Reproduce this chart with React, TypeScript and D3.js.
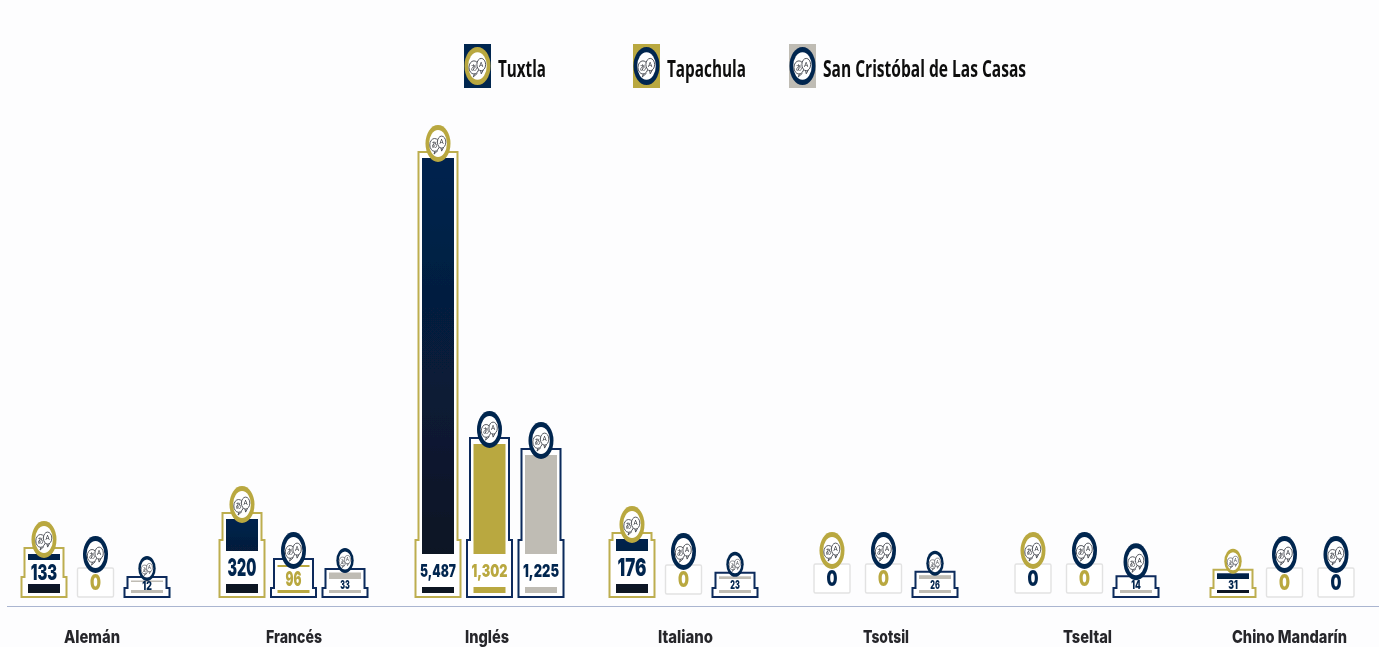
import * as d3 from 'd3'

const categories = ['Alemán', 'Francés', 'Inglés', 'Italiano', 'Tsotsil', 'Tseltal', 'Chino Mandarín']
const seriesNames = ['Tuxtla', 'Tapachula', 'San Cristóbal de Las Casas']
const tuxtla = [133, 320, 5487, 176, 0, 0, 31]
const tapachula = [0, 96, 1302, 0, 0, 0, 0]
const sanCristobal = [12, 33, 1225, 23, 26, 14, 0]
const seriesValues = [tuxtla, tapachula, sanCristobal]

// the original's bar heights are not linear in the value, so the scale has several knots
const yKnots = [12, 33, 96, 133, 176, 320, 1225, 1302, 5487]
const yRange = [577, 569, 559, 548, 533, 513, 449, 438, 152]

// layout, the groups in the original are not evenly spaced
const groupCenters = [96, 294, 490, 684, 884, 1085, 1285]
const labelCenters = [92, 294, 487, 685.5, 886, 1087.5, 1289.5]
const labelWidths = [56, 56, 44, 55, 46, 49, 115]
const zeroLift = [0, 0, 0, 3, 4, 4, 0]
const legendX = [464, 633, 789]
const legendTextWidths = [48, 79, 203]
const smallIconValues = [12, 23, 26, 31, 33]

const NAVY = '#05264f'
const GOLD = '#b9a83f'
const GREY = '#bfbcb4'
const BASE_Y = 597

const y = d3.scaleLinear().domain(yKnots).range(yRange)
const groupX = d3.scaleOrdinal<string, number>().domain(categories).range(groupCenters)
const labelX = d3.scaleOrdinal<string, number>().domain(categories).range(labelCenters)
const seriesOffset = d3.scalePoint<string>().domain(seriesNames).range([-52, 51])
const stepHeight = d3.scaleThreshold<number, number>().domain([40, 60]).range([9, 20, 57])
const labelFont = d3.scaleThreshold<number, number>().domain([40, 100, 150, 1000]).range([12, 20, 22, 24, 18])
const boxTop = d3.scaleThreshold<number, number>().domain([13, 40, 100, 150, 1000]).range([582, 579, 567, 560, 551, 554])
const boxBottom = d3.scaleThreshold<number, number>().domain([100, 1000]).range([590, 584, 587])
const formatValue = d3.format(',')

const barFill = ['url(#navyGrad)', GOLD, GREY]
const borderColor = ['#bdae4f', '#0b2a5b', '#0b2a5b']
const ringColor = [GOLD, NAVY, NAVY]
const labelColor = [NAVY, GOLD, NAVY]

function pedestalPath(cx: number, top: number, step: number) {
  const p = d3.path()
  p.moveTo(cx - 19.5, top)
  p.lineTo(cx + 19.5, top)
  p.lineTo(cx + 19.5, BASE_Y - step)
  p.lineTo(cx + 22.5, BASE_Y - step)
  p.lineTo(cx + 22.5, BASE_Y)
  p.lineTo(cx - 22.5, BASE_Y)
  p.lineTo(cx - 22.5, BASE_Y - step)
  p.lineTo(cx - 19.5, BASE_Y - step)
  p.closePath()
  return p.toString()
}

function Icon({ cx, cy, rx, ry, ring }: { cx: number; cy: number; rx: number; ry: number; ring: string }) {
  const sx = rx / 12.5
  const sy = ry / 18.5
  return (
    <g transform={`translate(${cx},${cy}) scale(${sx},${sy})`}>
      <ellipse rx={12.5} ry={18.5} fill={ring} />
      <ellipse rx={8.9} ry={13.4} fill="#fff" />
      <ellipse cx={-3.4} cy={1.4} rx={4.8} ry={6.4} fill="#fff" stroke="#44474f" strokeWidth={0.9} />
      <ellipse cx={3.6} cy={-1.4} rx={4.2} ry={6} fill="#fff" stroke="#44474f" strokeWidth={0.9} />
      <path d="M-3 7.6 L-4 10.6 L0 7 M3 4.4 L3.6 7.6 L5.6 3.8" fill="none" stroke="#44474f" strokeWidth={0.9} />
      <text x={-3.4} y={3.8} fontSize={6.5} textAnchor="middle" fill="#2b2e35" fontFamily="'Noto Sans CJK JP'">あ</text>
      <text x={3.6} y={0.9} fontSize={6.5} textAnchor="middle" fill="#2b2e35" fontFamily="'Open Sans'">A</text>
    </g>
  )
}

function Mark({ category, i, s }: { category: string; i: number; s: number }) {
  const value = seriesValues[s][i]
  const cx = groupX(category) + seriesOffset(seriesNames[s])!

  if (value === 0) {
    const bottom = BASE_Y - zeroLift[i]
    return (
      <g>
        <rect x={cx - 18} y={bottom - 29} width={36} height={29} rx={1.5} fill="#fff" stroke="#e2e2e2" strokeWidth={1.4} />
        <Icon cx={cx} cy={bottom - 42.5} rx={12.5} ry={18.5} ring={ringColor[s]} />
        <text x={cx} y={bottom - 7.5} fontSize={22} fontWeight={900} fontFamily="Inter" textAnchor="middle" fill={labelColor[s]}
          textLength={11} lengthAdjust="spacingAndGlyphs">0</text>
      </g>
    )
  }

  const top = y(value)
  const height = BASE_Y - top
  const small = smallIconValues.includes(value)
  const ry = small ? 12.5 : 18.5
  const rx = small ? 8.7 : 12.5
  const font = labelFont(value)
  const bt = boxTop(value)
  const bb = boxBottom(value)
  const inset = height < 30 ? 3.5 : 6
  const overlap = height < 30 ? 4 : 10
  const text = formatValue(value)
  return (
    <g>
      <path d={pedestalPath(cx, top, stepHeight(height))} fill="#fff" stroke={borderColor[s]} strokeWidth={2} />
      <rect x={cx - 16} y={top + inset} width={32} height={593 - top - inset} fill={barFill[s]} />
      <rect x={cx - 18} y={bt} width={36} height={bb - bt} fill="#fff" />
      <text x={cx} y={(bt + bb) / 2 + font * 0.36} fontSize={font} fontWeight={900} fontFamily="Inter" textAnchor="middle"
        fill={labelColor[s]} textLength={font * text.length * 0.4} lengthAdjust="spacingAndGlyphs">{text}</text>
      <Icon cx={cx} cy={top + overlap - ry} rx={rx} ry={ry} ring={ringColor[s]} />
    </g>
  )
}

export default function App() {
  return (
    <svg width={1379} height={647} style={{ position: 'absolute', left: 0, top: 0, background: '#fdfdfe' }}>
      <defs>
        <linearGradient id="navyGrad" x1="0" y1="0" x2="0" y2="1">
          <stop offset="0" stopColor="#04244f" />
          <stop offset="1" stopColor="#0a1320" />
        </linearGradient>
        <filter id="soft" x="-2%" y="-2%" width="104%" height="104%">
          <feGaussianBlur stdDeviation="0.55" />
        </filter>
      </defs>
      <g filter="url(#soft)">
        {seriesNames.map((name, s) => (
          <g key={name}>
            <rect x={legendX[s]} y={44} width={27} height={44} fill={[NAVY, GOLD, GREY][s]} />
            <Icon cx={legendX[s] + 13.5} cy={66} rx={13} ry={19} ring={[GOLD, NAVY, NAVY][s]} />
            <text x={legendX[s] + 34} y={76.5} fontSize={24} fontWeight={700} fontFamily="'Open Sans'" fill="#0b0b0b"
              textLength={legendTextWidths[s]} lengthAdjust="spacingAndGlyphs">{name}</text>
          </g>
        ))}
        {categories.map((c, i) => (
          <g key={c}>
            {seriesNames.map((_, s) => <Mark key={s} category={c} i={i} s={s} />)}
            <text x={labelX(c)} y={642.5} fontSize={18} fontWeight={800} fontFamily="Inter" textAnchor="middle" fill="#26262b"
              textLength={labelWidths[i]} lengthAdjust="spacingAndGlyphs">{c}</text>
          </g>
        ))}
        <line x1={7} x2={1379} y1={606.5} y2={606.5} stroke="#aab5d0" strokeWidth={1.2} />
      </g>
    </svg>
  )
}
